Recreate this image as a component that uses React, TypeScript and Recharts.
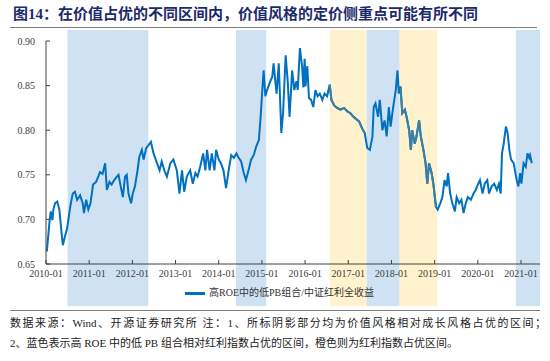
import React from 'react';
import { LineChart, Line, XAxis, YAxis, ReferenceArea } from 'recharts';

const times: number[] = [
  2010.02, 2010.08, 2010.11, 2010.15, 2010.17, 2010.21, 2010.26, 2010.31, 2010.35, 2010.39,
  2010.44, 2010.49, 2010.56, 2010.62, 2010.67, 2010.72, 2010.79, 2010.85, 2010.88, 2010.93,
  2010.98, 2011.03, 2011.09, 2011.16, 2011.21, 2011.25, 2011.31, 2011.37, 2011.41, 2011.47,
  2011.52, 2011.58, 2011.64, 2011.68, 2011.73, 2011.78, 2011.83, 2011.87, 2011.91, 2011.97,
  2012.01, 2012.06, 2012.12, 2012.16, 2012.22, 2012.26, 2012.32, 2012.37, 2012.43, 2012.49,
  2012.57, 2012.63, 2012.68, 2012.74, 2012.80, 2012.88, 2012.95, 2013.03, 2013.09, 2013.15,
  2013.20, 2013.26, 2013.34, 2013.40, 2013.46, 2013.51, 2013.57, 2013.64, 2013.69, 2013.73,
  2013.79, 2013.84, 2013.90, 2013.94, 2014.00, 2014.05, 2014.11, 2014.17, 2014.23, 2014.29,
  2014.35, 2014.41, 2014.46, 2014.52, 2014.58, 2014.63, 2014.69, 2014.75, 2014.81, 2014.87,
  2014.93, 2014.97, 2015.00, 2015.04, 2015.08, 2015.12, 2015.18, 2015.24, 2015.27, 2015.34,
  2015.39, 2015.45, 2015.49, 2015.55, 2015.60, 2015.64, 2015.70, 2015.75, 2015.80, 2015.83,
  2015.88, 2015.93, 2015.96, 2015.99, 2016.01, 2016.05, 2016.09, 2016.14, 2016.19, 2016.24,
  2016.29, 2016.34, 2016.40, 2016.45, 2016.51, 2016.57, 2016.61, 2016.67, 2016.74, 2016.82,
  2016.90, 2016.98, 2017.05, 2017.12, 2017.17, 2017.25, 2017.32, 2017.38, 2017.44, 2017.50,
  2017.56, 2017.59, 2017.63, 2017.69, 2017.73, 2017.79, 2017.84, 2017.89, 2017.94, 2017.98,
  2018.04, 2018.10, 2018.14, 2018.17, 2018.21, 2018.25, 2018.31, 2018.35, 2018.41, 2018.45,
  2018.48, 2018.54, 2018.58, 2018.64, 2018.68, 2018.74, 2018.79, 2018.83, 2018.87, 2018.93,
  2018.97, 2019.03, 2019.07, 2019.13, 2019.18, 2019.23, 2019.28, 2019.31, 2019.36, 2019.41,
  2019.47, 2019.51, 2019.57, 2019.62, 2019.67, 2019.72, 2019.77, 2019.84, 2019.90, 2019.95,
  2020.01, 2020.05, 2020.11, 2020.16, 2020.22, 2020.26, 2020.32, 2020.38, 2020.44, 2020.49,
  2020.53, 2020.56, 2020.60, 2020.65, 2020.69, 2020.73, 2020.77, 2020.83, 2020.86, 2020.90,
  2020.94, 2020.98, 2021.01, 2021.06, 2021.11, 2021.15, 2021.19, 2021.21, 2021.25,
];

const ratio: number[] = [
  0.664, 0.697, 0.709, 0.699, 0.711, 0.718, 0.720, 0.711, 0.690, 0.671,
  0.681, 0.690, 0.714, 0.729, 0.731, 0.722, 0.727, 0.718, 0.707, 0.722,
  0.711, 0.718, 0.739, 0.742, 0.748, 0.753, 0.751, 0.763, 0.733, 0.742,
  0.739, 0.744, 0.748, 0.750, 0.737, 0.725, 0.748, 0.750, 0.729, 0.718,
  0.729, 0.737, 0.755, 0.770, 0.778, 0.767, 0.780, 0.783, 0.787, 0.774,
  0.763, 0.755, 0.765, 0.755, 0.748, 0.763, 0.767, 0.755, 0.729, 0.755,
  0.731, 0.748, 0.755, 0.740, 0.752, 0.748, 0.759, 0.774, 0.755, 0.778,
  0.755, 0.774, 0.755, 0.778, 0.767, 0.763, 0.755, 0.735, 0.755, 0.772,
  0.769, 0.774, 0.769, 0.765, 0.752, 0.744, 0.755, 0.767, 0.772, 0.782,
  0.789, 0.815, 0.838, 0.867, 0.838, 0.845, 0.853, 0.860, 0.875, 0.841,
  0.875, 0.797, 0.819, 0.884, 0.853, 0.815, 0.867, 0.845, 0.855, 0.845,
  0.892, 0.872, 0.848, 0.880, 0.849, 0.872, 0.836, 0.834, 0.826, 0.845,
  0.838, 0.841, 0.834, 0.841, 0.838, 0.851, 0.834, 0.828, 0.825, 0.823,
  0.825, 0.821, 0.819, 0.815, 0.813, 0.810, 0.802, 0.797, 0.780, 0.778,
  0.793, 0.826, 0.830, 0.815, 0.834, 0.800, 0.811, 0.793, 0.826, 0.804,
  0.826, 0.845, 0.867, 0.841, 0.849, 0.819, 0.823, 0.815, 0.800, 0.778,
  0.800, 0.785, 0.793, 0.811, 0.793, 0.778, 0.763, 0.740, 0.763, 0.752,
  0.740, 0.714, 0.711, 0.718, 0.725, 0.744, 0.737, 0.752, 0.729, 0.718,
  0.709, 0.725, 0.718, 0.722, 0.707, 0.718, 0.725, 0.722, 0.729, 0.733,
  0.740, 0.744, 0.729, 0.740, 0.744, 0.729, 0.737, 0.740, 0.733, 0.740,
  0.729, 0.774, 0.785, 0.804, 0.797, 0.778, 0.767, 0.763, 0.755, 0.744,
  0.737, 0.752, 0.740, 0.763, 0.759, 0.774, 0.769, 0.772, 0.763,
];

const xTicks: number[] = [2010, 2011, 2012, 2013, 2014, 2015, 2016, 2017, 2018, 2019, 2020, 2021];
const yTicks: number[] = [0.65, 0.7, 0.75, 0.8, 0.85, 0.9];
const xDomain: [number, number] = [2010, 2021.44];

const blueBands: [number, number][] = [
  [2010.5, 2012.37],
  [2014.4, 2015.1],
  [2017.42, 2018.19],
  [2020.88, 2021.44],
];
const orangeBands: [number, number][] = [
  [2016.57, 2017.42],
  [2018.19, 2019.06],
];

const titleText = '图14：在价值占优的不同区间内，价值风格的定价侧重点可能有所不同';
const legendText = '高ROE中的低PB组合/中证红利全收益';
const note1 = '数据来源：Wind、开源证券研究所 注：1、所标阴影部分均为价值风格相对成长风格占优的区间；';
const note2 = '2、蓝色表示高 ROE 中的低 PB 组合相对红利指数占优的区间，橙色则为红利指数占优区间。';

const BLUE_BAND = '#CFE2F3';
const ORANGE_BAND = '#FFF2CC';
const LINE = '#0070C0';
const LINE_ON_ORANGE = '#3A7FA4';

const inOrange = (t: number) => orangeBands.some(([a, b]) => t >= a && t <= b);

const BandShape = (fill: string) => (props: any) => (
  <rect x={props.x} y={30} width={props.width} height={276} fill={fill} stroke="none" />
);

const SERIF = '"Liberation Serif", "Noto Sans CJK SC", serif';

export default function App() {
  const data = times.map((t, i) => ({
    t,
    v: ratio[i],
    o: inOrange(t) ? ratio[i] : null,
  }));

  return (
    <div style={{ position: 'absolute', left: 0, top: 0, width: 550, height: 361, background: '#fff', overflow: 'hidden' }}>
      <LineChart
        width={550}
        height={361}
        data={data}
        margin={{ top: 41, right: 10, bottom: 67, left: 0 }}
        style={{ position: 'absolute', left: 0, top: 0 }}
      >
        {blueBands.map(([a, b], i) => (
          <ReferenceArea key={'b' + i} x1={a} x2={b} ifOverflow="visible" shape={BandShape(BLUE_BAND)} />
        ))}
        {orangeBands.map(([a, b], i) => (
          <ReferenceArea key={'o' + i} x1={a} x2={b} ifOverflow="visible" shape={BandShape(ORANGE_BAND)} />
        ))}
        <XAxis
          dataKey="t"
          type="number"
          domain={xDomain}
          allowDataOverflow
          ticks={xTicks}
          interval={0}
          tickFormatter={(v: number) => `${v}-01`}
          height={30}
          tickSize={-4}
          tickMargin={10}
          stroke="#404040"
          tick={{ fontSize: 10, fill: '#404040', fontFamily: SERIF }}
        />
        <YAxis
          type="number"
          domain={[0.65, 0.9]}
          ticks={yTicks}
          interval={0}
          width={46}
          tickFormatter={(v: number) => v.toFixed(2)}
          tickSize={-4}
          tickMargin={15}
          stroke="#404040"
          tick={{ fontSize: 10, fill: '#404040', fontFamily: SERIF }}
        />
        <Line
          dataKey="v"
          type="linear"
          stroke={LINE}
          strokeWidth={2}
          dot={false}
          activeDot={false}
          isAnimationActive={false}
        />
        <Line
          dataKey="o"
          type="linear"
          stroke={LINE_ON_ORANGE}
          strokeWidth={2}
          dot={false}
          activeDot={false}
          connectNulls={false}
          isAnimationActive={false}
        />
      </LineChart>

      <div
        style={{
          position: 'absolute', left: 13, top: 5, fontSize: 15, fontWeight: 700, color: '#1B2A6B',
          fontFamily: SERIF, whiteSpace: 'nowrap', lineHeight: '18px',
        }}
      >
        {titleText}
      </div>
      <div style={{ position: 'absolute', left: 10, top: 27, width: 527, height: 1, background: '#7F7F7F' }} />

      <div style={{ position: 'absolute', left: 185, top: 286, display: 'flex', alignItems: 'center', whiteSpace: 'nowrap' }}>
        <div style={{ width: 20, height: 3, background: LINE, marginRight: 4 }} />
        <span style={{ fontSize: 10, color: '#333', fontFamily: SERIF, lineHeight: '14px' }}>{legendText}</span>
      </div>

      <div style={{ position: 'absolute', left: 10, top: 310, width: 530, height: 1, background: '#7F7F7F' }} />
      <div
        style={{
          position: 'absolute', left: 10, top: 314, width: 536, fontSize: 11, color: '#222', fontFamily: SERIF,
          whiteSpace: 'nowrap', lineHeight: '18px', textAlign: 'justify', textAlignLast: 'justify',
        }}
      >
        {note1}
      </div>
      <div
        style={{
          position: 'absolute', left: 10, top: 334, fontSize: 11, color: '#222', fontFamily: SERIF,
          whiteSpace: 'nowrap', lineHeight: '18px',
        }}
      >
        {note2}
      </div>
    </div>
  );
}
